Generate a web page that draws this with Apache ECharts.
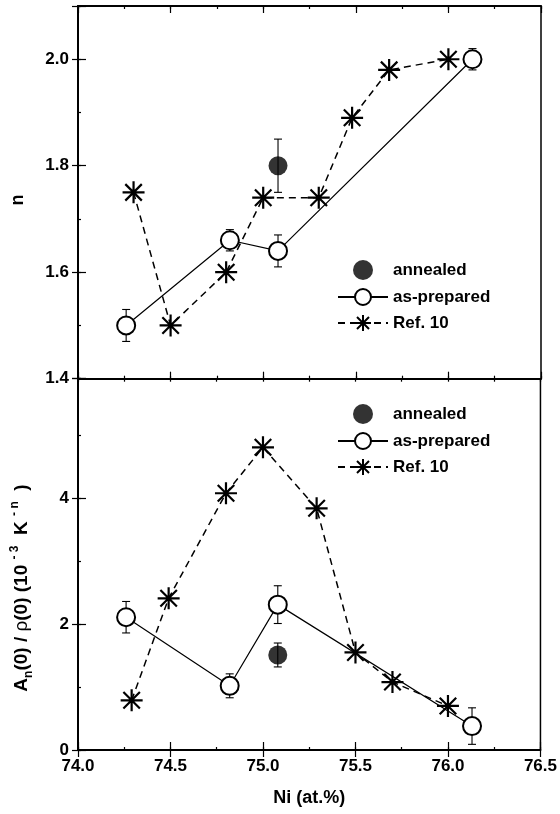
<!DOCTYPE html>
<html><head><meta charset="utf-8">
<script src="https://cdn.jsdelivr.net/npm/echarts@6/dist/echarts.min.js"></script>
<style>html,body{margin:0;padding:0;background:#fff}#c{width:560px;height:814px}</style>
</head><body><div id="c"></div>
<script>
// ---- data ----
const seriesNames = ['annealed', 'as-prepared', 'Ref. 10'];
// top panel: exponent n
const apX = [74.26, 74.82, 75.08, 76.13];
const apN = [1.50, 1.66, 1.64, 2.00];
const apNErr = [0.03, 0.02, 0.03, 0.02];
const anX = [75.08];
const anN = [1.80];
const anNErr = [0.05];
const refXn = [74.30, 74.50, 74.80, 75.00, 75.30, 75.48, 75.68, 76.00];
const refN = [1.75, 1.50, 1.60, 1.74, 1.74, 1.89, 1.98, 2.00];
// bottom panel: An(0)/rho(0)
const apA = [2.11, 1.02, 2.31, 0.38];
const apAErr = [0.25, 0.19, 0.30, 0.29];
const anA = [1.51];
const anAErr = [0.19];
const refXa = [74.29, 74.49, 74.80, 75.00, 75.29, 75.50, 75.70, 76.00];
const refA = [0.79, 2.41, 4.08, 4.81, 3.84, 1.55, 1.08, 0.70];

const FONT = '"Liberation Sans", Arial, Helvetica, sans-serif';
const zip = (xs, ys, es) => xs.map((x, i) => es ? [x, ys[i], es[i]] : [x, ys[i]]);

const chart = echarts.init(document.getElementById('c'), null, {renderer: 'canvas'});

const grids = [
  {left: 78, right: 19, top: 6, height: 372.7},
  {left: 78, right: 19, top: 378.7, bottom: 64}
];
grids.forEach(g => { g.show = true; g.borderColor = '#000'; g.borderWidth = 1.5; g.backgroundColor = 'transparent'; });

const line = {show: true, lineStyle: {color: '#000', width: 1.5}};
function xAx(grid, pos, interval, tickLen, labels) {
  return {
    type: 'value', gridIndex: grid, position: pos, min: 74, max: 76.5, interval: interval,
    axisLine: line, splitLine: {show: false},
    axisTick: {show: true, inside: true, length: tickLen, lineStyle: {color: '#000', width: 1.2}},
    axisLabel: labels ? {show: true, color: '#000', fontFamily: FONT, fontWeight: 'bold', fontSize: 17, margin: 8,
      formatter: v => v.toFixed(1)} : {show: false},
    name: labels ? 'Ni (at.%)' : '', nameLocation: 'middle', nameGap: 39,
    nameTextStyle: {color: '#000', fontFamily: FONT, fontWeight: 'bold', fontSize: 18}
  };
}
function yAx(grid, min, max, interval, inside, tickLen, labelFmt) {
  return {
    type: 'value', gridIndex: grid, position: 'left', min: min, max: max, interval: interval,
    axisLine: line, splitLine: {show: false},
    axisTick: {show: true, inside: inside, length: tickLen, lineStyle: {color: '#000', width: 1.2}},
    axisLabel: labelFmt ? {show: true, color: '#000', fontFamily: FONT, fontWeight: 'bold', fontSize: 17, margin: 9,
      formatter: labelFmt} : {show: false}
  };
}

const xAxis = [
  xAx(0, 'bottom', 0.5, 7, false), xAx(0, 'bottom', 0.25, 3, false),
  xAx(0, 'top', 0.5, 7, false), xAx(0, 'top', 0.25, 3, false),
  xAx(1, 'bottom', 0.5, 8, true), xAx(1, 'bottom', 0.25, 3, false),
  xAx(1, 'top', 0.5, 7, false), xAx(1, 'top', 0.25, 3, false)
];
const yAxis = [
  yAx(0, 1.4, 2.1, 0.2, false, 6, v => (Math.abs(v - 2.1) < 1e-6 ? '' : v.toFixed(1))),
  yAx(0, 1.4, 2.1, 0.2, true, 8, null),
  yAx(0, 1.4, 2.1, 0.1, true, 3, null),
  yAx(1, 0, 5.9, 2, false, 6, v => (Math.abs(v - Math.round(v)) > 1e-6 ? '' : String(Math.round(v)))),
  yAx(1, 0, 5.9, 2, true, 8, null),
  yAx(1, 0, 5.9, 1, true, 3, null)
];

function errBars(xi, yi, data) {
  return {
    type: 'custom', xAxisIndex: xi, yAxisIndex: yi, data: data, z: 1, silent: true,
    encode: {x: 0, y: 1},
    renderItem: (params, api) => {
      const x = api.value(0), y = api.value(1), e = api.value(2);
      const a = api.coord([x, y + e]), b = api.coord([x, y - e]);
      const st = {stroke: '#000', lineWidth: 1.1};
      return {type: 'group', children: [
        {type: 'line', shape: {x1: a[0], y1: a[1], x2: b[0], y2: b[1]}, style: st},
        {type: 'line', shape: {x1: a[0] - 4, y1: a[1], x2: a[0] + 4, y2: a[1]}, style: st},
        {type: 'line', shape: {x1: b[0] - 4, y1: b[1], x2: b[0] + 4, y2: b[1]}, style: st}
      ]};
    }
  };
}
const STAR = 'path://M0,-10L0,10M-10,0L10,0M-7.5,-7.5L7.5,7.5M-7.5,7.5L7.5,-7.5';
function panelSeries(xi, yi, apY, apE, anY, anE, refX, refY) {
  return [
    errBars(xi, yi, zip(apX, apY, apE)),
    errBars(xi, yi, zip(anX, anY, anE)),
    {name: 'annealed', type: 'scatter', xAxisIndex: xi, yAxisIndex: yi, data: zip(anX, anY),
     symbol: 'circle', symbolSize: 19, itemStyle: {color: '#000'}, z: 3},
    {name: 'as-prepared', type: 'line', xAxisIndex: xi, yAxisIndex: yi, data: zip(apX, apY),
     symbol: 'circle', symbolSize: 18, showSymbol: true,
     itemStyle: {color: '#fff', borderColor: '#000', borderWidth: 2},
     lineStyle: {color: '#000', width: 1.2}, z: 3},
    {name: 'Ref. 10', type: 'line', xAxisIndex: xi, yAxisIndex: yi, data: zip(refX, refY),
     symbol: STAR, symbolSize: 22, showSymbol: true,
     itemStyle: {color: 'rgba(0,0,0,0)', borderColor: '#000', borderWidth: 2.2},
     lineStyle: {color: '#000', width: 1.5, type: [7, 5]}, z: 2}
  ];
}

const legendBase = {
  orient: 'vertical', itemWidth: 50, itemHeight: 20, itemGap: 8, padding: 0,
  data: seriesNames, selectedMode: false,
  textStyle: {color: '#000', fontFamily: FONT, fontWeight: 'bold', fontSize: 17}
};

chart.setOption({
  animation: false,
  backgroundColor: '#fff',
  grid: grids,
  xAxis: xAxis,
  yAxis: yAxis,
  legend: [
    Object.assign({}, legendBase, {left: 337, top: 260}),
    Object.assign({}, legendBase, {left: 337, top: 404})
  ],
  series: [].concat(
    panelSeries(0, 0, apN, apNErr, anN, anNErr, refXn, refN),
    panelSeries(4, 3, apA, apAErr, anA, anAErr, refXa, refA)
  ),
  graphic: [
    {type: 'text', x: 18, y: 200, rotation: Math.PI / 2,
     style: {text: 'n', fill: '#000', font: 'bold 18px ' + FONT, align: 'center', verticalAlign: 'middle'}},
    {type: 'text', x: 22, y: 588, rotation: Math.PI / 2,
     style: {
       text: '{b|A}{sub|n}{b|(0) / }{r|ρ}{b|(0) (10 }{sup|- 3}{b|  K }{sup|- n}{b|  )}',
       fill: '#000', align: 'center', verticalAlign: 'middle',
       rich: {
         b: {font: 'bold 19px ' + FONT, fill: '#000', lineHeight: 26, verticalAlign: 'middle'},
         r: {font: '19px ' + FONT, fill: '#000', lineHeight: 26, verticalAlign: 'middle'},
         sub: {font: 'bold 12px ' + FONT, fill: '#000', lineHeight: 26, verticalAlign: 'bottom'},
         sup: {font: 'bold 12px ' + FONT, fill: '#000', lineHeight: 26, verticalAlign: 'top'}
       }
     }}
  ]
});
</script></body></html>
